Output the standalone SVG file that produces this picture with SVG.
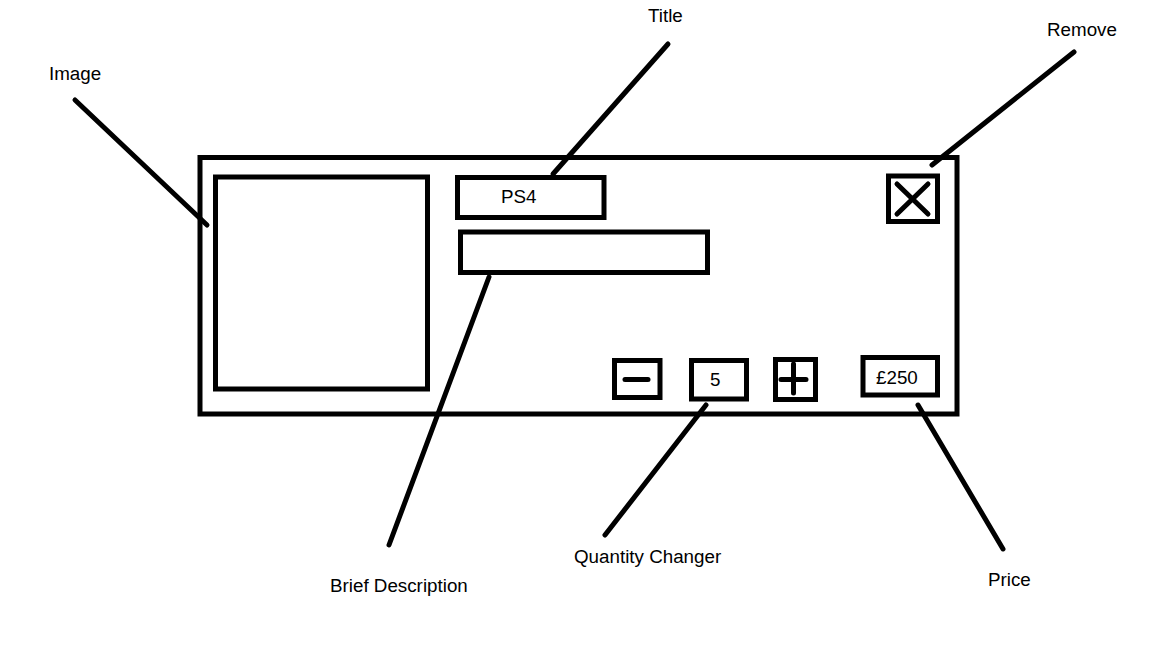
<svg xmlns="http://www.w3.org/2000/svg" width="1152" height="648" viewBox="0 0 1152 648">
<style>
.box{fill:none;stroke:#000;stroke-width:5}
.ln{fill:none;stroke:#000;stroke-width:5;stroke-linecap:round}
.ic{fill:none;stroke:#000;stroke-width:5;stroke-linecap:round}
text{font-family:"Liberation Sans",Arial,sans-serif;font-size:18.8px;fill:#000}
</style>
<rect width="1152" height="648" fill="#fff"/>
<g id="card"><rect class="box" x="200" y="157.5" width="757" height="256.5"/></g>
<g id="image"><rect class="box" x="215.5" y="177" width="212" height="212"/></g>
<g id="title-box"><rect class="box" x="457.5" y="177.5" width="146.5" height="40"/><text x="501" y="203">PS4</text></g>
<g id="desc-box"><rect class="box" x="460.5" y="232" width="247" height="40.5"/></g>
<g id="remove-btn"><rect class="box" x="888.5" y="176" width="49" height="45.5"/><path class="ic" d="M897 184L928 214M928 184L897 214"/></g>
<g id="minus-btn"><rect class="box" x="614.5" y="360.5" width="45.5" height="37"/><path class="ic" d="M625 379.5H648"/></g>
<g id="qty-box"><rect class="box" x="691.5" y="360.5" width="55" height="38.5"/><text x="710" y="386">5</text></g>
<g id="plus-btn"><rect class="box" x="775.5" y="359.5" width="40" height="40"/><path class="ic" d="M781 379.5H806M793.5 364V393"/></g>
<g id="price-box"><rect class="box" x="863" y="357.5" width="74.5" height="37.5"/><text x="876" y="384">£250</text></g>
<g id="labels">
<text x="49" y="80">Image</text>
<text x="648" y="22">Title</text>
<text x="1047" y="36">Remove</text>
<text x="330" y="592">Brief Description</text>
<text x="574" y="563">Quantity Changer</text>
<text x="988" y="586">Price</text>
</g>
<g id="connectors">
<path class="ln" d="M75 100L207 225"/>
<path class="ln" d="M668 44L553 174"/>
<path class="ln" d="M1074 52L932 165"/>
<path class="ln" d="M489 277L389 545"/>
<path class="ln" d="M706 405L605 535"/>
<path class="ln" d="M918 405L1003 549"/>
</g>
</svg>
